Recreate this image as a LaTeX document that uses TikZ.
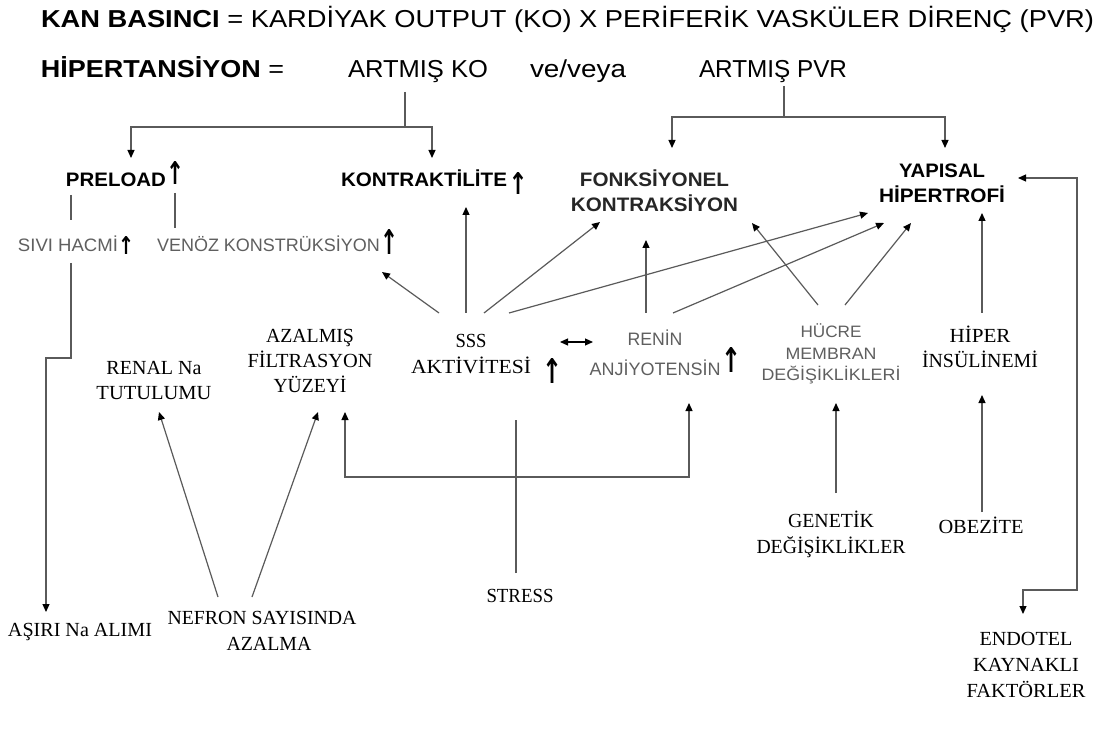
\documentclass[tikz,border=0pt]{standalone}
\usepackage{fontspec}
\setmainfont{Liberation Serif}
\setsansfont{Liberation Sans}
\newfontfamily\symf{DejaVu Sans}
\usetikzlibrary{arrows.meta}
\definecolor{txtgray}{RGB}{95,95,95}
\definecolor{lngray}{RGB}{90,90,90}
\newcommand\W[2]{\resizebox{#1pt}{\height}{#2}}
\newcommand\stk[1]{\begin{tabular}[t]{@{}c@{}}#1\end{tabular}}
\newcommand\ua[2]{\resizebox*{#1pt}{#2pt}{\symf\bfseries ↑}}
\tikzset{
  every node/.style={inner sep=0pt, outer sep=0pt},
  ttl/.style={font=\sffamily\fontsize{24.5}{28}\selectfont, anchor=base west},
  bl/.style={font=\sffamily\bfseries\fontsize{19.5}{25}\selectfont, anchor=base},
  gr/.style={font=\sffamily\fontsize{18}{22}\selectfont, text=txtgray, anchor=base},
  sf/.style={font=\rmfamily\fontsize{20}{25}\selectfont, anchor=base},
  upm/.style={anchor=south},
  ln/.style={draw=lngray, line width=1.2pt},
  ar/.style={ln, -{Triangle[length=8pt,width=7pt,color=black]}},
  arb/.style={ln, {Triangle[length=8pt,width=7pt,color=black]}-{Triangle[length=8pt,width=7pt,color=black]}},
}
\begin{document}
\begin{tikzpicture}[x=1pt,y=-1pt]
\fill[white] (0,0) rectangle (1109,735);
\useasboundingbox (0,0) rectangle (1109,735);

% header
\node[ttl] (title) at (41,28) {\W{1053}{\textbf{KAN BASINCI} = KARDİYAK OUTPUT (KO) X PERİFERİK VASKÜLER DİRENÇ (PVR)}};
\node[ttl] (hip) at (41,78) {\W{243}{\textbf{HİPERTANSİYON} =}};
\node[ttl] (ko) at (348,78) {\W{140}{ARTMIŞ KO}};
\node[ttl] (veya) at (530,78) {\W{96}{ve/veya}};
\node[ttl] (pvr) at (699,78) {\W{148}{ARTMIŞ PVR}};

% second level
\node[bl] (preload) at (116,187) {\W{100}{PRELOAD}};
\node[bl] (kontr) at (424,187) {\W{166}{KONTRAKTİLİTE}};
\node[bl, text=black!85] (fonk) at (654.5,187) {\stk{\W{149}{FONKSİYONEL}\\\W{167}{KONTRAKSİYON}}};
\node[bl] (yap) at (942,178) {\stk{\W{86}{YAPISAL}\\\W{126}{HİPERTROFİ}}};

\node[gr] (sivi) at (68,252) {\W{100}{SIVI HACMİ}};
\node[gr] (venoz) at (268.5,252) {\W{223}{VENÖZ KONSTRÜKSİYON}};

% up marks
\node[upm] (up1) at (175.5,185) {\ua{18}{23}};
\node[upm] (up2) at (518,195) {\ua{19}{22}};
\node[upm] (up3) at (126,255) {\ua{16}{18}};
\node[upm] (up4) at (389.5,255) {\ua{18}{25}};
\node[upm] (up5) at (552,383) {\ua{20}{25}};
\node[upm] (up6) at (731.5,373) {\ua{20}{25}};

% middle level
\node[sf] (renal) at (154,374) {\stk{\W{95}{RENAL Na}\\\W{115}{TUTULUMU}}};
\node[sf] (azal) at (310,343) {\stk{\W{88}{AZALMIŞ}\\\W{125}{FİLTRASYON}\\\W{73}{YÜZEYİ}}};
\node[sf, font=\rmfamily\fontsize{20}{26}\selectfont] (sss) at (471,348) {\stk{\W{31}{SSS}\\\W{120}{AKTİVİTESİ}}};
\node[gr, font=\sffamily\fontsize{18}{30}\selectfont] (renin) at (655,346) {\stk{\W{55}{RENİN}\\\W{131}{ANJİYOTENSİN}}};
\node[gr, font=\sffamily\fontsize{16.5}{21.5}\selectfont] (hucre) at (831,338) {\stk{\W{61}{HÜCRE}\\\W{91}{MEMBRAN}\\\W{139}{DEĞİŞİKLİKLERİ}}};
\node[sf] (hiper) at (980,343) {\stk{\W{61}{HİPER}\\\W{116}{İNSÜLİNEMİ}}};

% bottom level
\node[sf, font=\rmfamily\fontsize{20}{26}\selectfont] (genetik) at (831,527) {\stk{\W{86}{GENETİK}\\\W{149}{DEĞİŞİKLİKLER}}};
\node[sf] (obez) at (981,533) {\W{85}{OBEZİTE}};
\node[sf, font=\rmfamily\fontsize{20}{26}\selectfont] (endo) at (1026,645) {\stk{\W{93}{ENDOTEL}\\\W{106}{KAYNAKLI}\\\W{119}{FAKTÖRLER}}};
\node[sf] (stress) at (520,602) {\W{67}{STRESS}};
\node[sf] (asiri) at (80,636) {\W{144}{AŞIRI Na ALIMI}};
\node[sf, font=\rmfamily\fontsize{20}{26}\selectfont] (nefron) at (262,624) {\stk{\W{189}{NEFRON SAYISINDA}\\\hspace*{14pt}\W{85}{AZALMA}}};

% connector points
\coordinate (ko-b) at (405,92);
\coordinate (ko-j) at (405,127);
\coordinate (pre-t) at (131,158);
\coordinate (kon-t) at (432,158);
\coordinate (pvr-b) at (784,86);
\coordinate (pvr-j) at (784,117);
\coordinate (fonk-t) at (672,148);
\coordinate (yap-t) at (945,148);
\coordinate (pre-l1) at (71,195);
\coordinate (sivi-t) at (71,220);
\coordinate (pre-l2) at (175,193);
\coordinate (ven-t) at (175,228);
\coordinate (sivi-b) at (71,263);
\coordinate (sivi-k) at (71,358);
\coordinate (asiri-t) at (46,612);
\coordinate (nef-l) at (218,597);
\coordinate (renal-b) at (159,412);
\coordinate (nef-r) at (252,597);
\coordinate (azal-b1) at (318,412);
\coordinate (azal-b2) at (345,412);
\coordinate (brk-l) at (345,477);
\coordinate (brk-r) at (689,477);
\coordinate (renin-b) at (689,403);
\coordinate (stress-t) at (516,573);
\coordinate (sss-b) at (516,420);
\coordinate (sss-t1) at (439,313);
\coordinate (venoz-a) at (382,272);
\coordinate (sss-t2) at (466,313);
\coordinate (kontr-b) at (466,207);
\coordinate (sss-t3) at (484,313);
\coordinate (fonk-b1) at (600,222);
\coordinate (sss-t4) at (509,313);
\coordinate (yap-b1) at (868,213);
\coordinate (sss-r) at (560,342);
\coordinate (renin-l) at (593,342);
\coordinate (renin-t1) at (646,313);
\coordinate (fonk-b2) at (646,240);
\coordinate (renin-t2) at (673,313);
\coordinate (yap-b2) at (884,223);
\coordinate (huc-t1) at (818,305);
\coordinate (fonk-b3) at (752,223);
\coordinate (huc-t2) at (845,305);
\coordinate (yap-b3) at (911,223);
\coordinate (gen-t) at (836,493);
\coordinate (huc-b) at (836,403);
\coordinate (hip-t) at (982,313);
\coordinate (yap-b4) at (982,213);
\coordinate (obez-t) at (982,512);
\coordinate (hip-b) at (982,395);
\coordinate (yap-r) at (1018,178);
\coordinate (endo-k1) at (1077,178);
\coordinate (endo-k2) at (1077,590);
\coordinate (endo-k3) at (1023,590);
\coordinate (endo-t) at (1023,614);

% connectors
\draw[ln] (ko-b) -- (ko-j);
\draw[ar] (ko-j) -| (pre-t);
\draw[ar] (ko-j) -| (kon-t);
\draw[ln] (pvr-b) -- (pvr-j);
\draw[ar] (pvr-j) -| (fonk-t);
\draw[ar] (pvr-j) -| (yap-t);
\draw[ln] (pre-l1) -- (sivi-t);
\draw[ln] (pre-l2) -- (ven-t);
\draw[ar] (sivi-b) -- (sivi-k) -| (asiri-t);
\draw[ar] (nef-l) -- (renal-b);
\draw[ar] (nef-r) -- (azal-b1);
\draw[arb] (azal-b2) -- (brk-l) -- (brk-r) -- (renin-b);
\draw[ln] (stress-t) -- (sss-b);
\draw[ar] (sss-t1) -- (venoz-a);
\draw[ar] (sss-t2) -- (kontr-b);
\draw[ar] (sss-t3) -- (fonk-b1);
\draw[ar] (sss-t4) -- (yap-b1);
\draw[arb, draw=black] (sss-r) -- (renin-l);
\draw[ar] (renin-t1) -- (fonk-b2);
\draw[ar] (renin-t2) -- (yap-b2);
\draw[ar] (huc-t1) -- (fonk-b3);
\draw[ar] (huc-t2) -- (yap-b3);
\draw[ar] (gen-t) -- (huc-b);
\draw[ar] (hip-t) -- (yap-b4);
\draw[ar] (obez-t) -- (hip-b);
\draw[arb] (yap-r) -- (endo-k1) -- (endo-k2) -- (endo-k3) -- (endo-t);
\end{tikzpicture}
\end{document}
